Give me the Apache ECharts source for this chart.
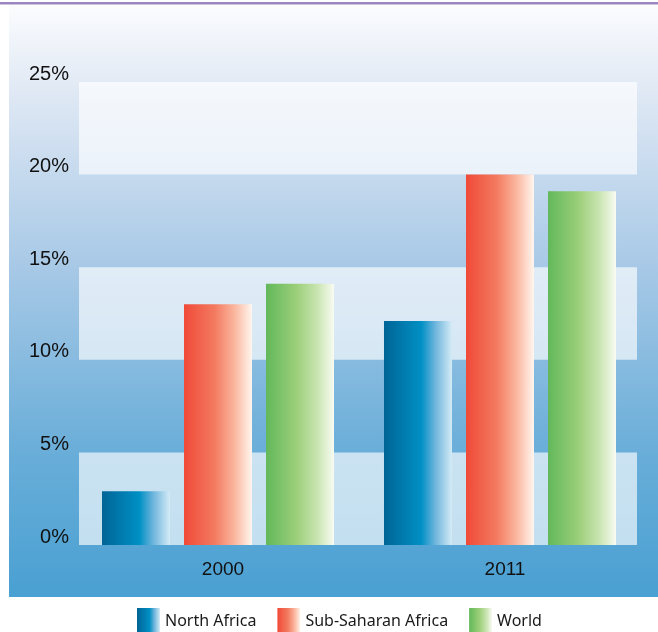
<!DOCTYPE html>
<html><head><meta charset="utf-8">
<script src="https://cdn.jsdelivr.net/npm/echarts@6/dist/echarts.min.js"></script>
<style>html,body{margin:0;padding:0;background:#fff}#c{width:658px;height:632px}</style>
</head><body><div id="c"></div>
<script>
const categories = ['2000', '2011'];
const northAfrica = [2.9, 12.1];
const subSaharan = [13.0, 20.0];
const world = [14.1, 19.1];
const seriesNames = ['North Africa', 'Sub-Saharan Africa', 'World'];
const yTicks = [0, 5, 10, 15, 20, 25];

const G = echarts.graphic.LinearGradient;
const grad = (stops) => new G(0, 0, 1, 0, stops.map(s => ({offset: s[0], color: s[1]})));
const colNA = grad([[0, '#006496'], [0.55, '#0090c4'], [0.75, '#6cb4dc'], [1, '#d4ebf6']]);
const colSS = grad([[0, '#f04a38'], [0.45, '#f37a60'], [0.75, '#fbb8a0'], [1, '#fff6ef']]);
const colW = grad([[0, '#62b85a'], [0.45, '#9ccf7a'], [0.75, '#c8e4b0'], [1, '#f8fbf2']]);

const chart = echarts.init(document.getElementById('c'));
chart.setOption({
  animation: false,
  graphic: [
    {type: 'rect', z: -10, shape: {x: 9, y: 5, width: 649, height: 592},
     style: {fill: new G(0, 0, 0, 1, [{offset: 0, color: '#fbfcfe'}, {offset: 0.15, color: '#dfe8f4'}, {offset: 0.45, color: '#a6c8e6'}, {offset: 0.75, color: '#6aaed9'}, {offset: 1, color: '#49a0d2'}])}},
    {type: 'rect', z: -9, shape: {x: 0, y: 2, width: 658, height: 2.5}, style: {fill: '#9a86c2'}}
  ],
  grid: [
    {left: 79, right: 21, top: 82, bottom: 87},
    {left: 77, right: 17, top: 82, bottom: 87}
  ],
  legend: {
    left: 132, top: 603, itemWidth: 23, itemHeight: 26, itemGap: 21,
    icon: 'rect',
    textStyle: {fontFamily: 'Noto Sans', fontSize: 16, color: '#1a1a1a'},
    data: seriesNames
  },
  xAxis: [
    {type: 'category', gridIndex: 0, data: categories, show: false},
    {type: 'category', gridIndex: 1, data: categories,
     axisLine: {show: false}, axisTick: {show: false},
     axisLabel: {fontFamily: 'Liberation Sans', fontSize: 19, color: '#111', margin: 15, padding: [0, 0, 0, 10]}}
  ],
  yAxis: [
    {type: 'value', gridIndex: 0, min: 0, max: 25, interval: 5,
     axisLine: {show: false}, axisTick: {show: false},
     splitLine: {show: false},
     splitArea: {show: true, areaStyle: {color: ['rgba(255,255,255,0.65)', 'rgba(255,255,255,0)']}},
     axisLabel: {fontFamily: 'Liberation Sans', fontSize: 20, color: '#111', margin: 10,
       verticalAlign: 'bottom', lineHeight: 16,
       formatter: v => yTicks.includes(v) ? v + '%' : ''}},
    {type: 'value', gridIndex: 1, min: 0, max: 25, interval: 5, show: false, splitLine: {show: false}}
  ],
  series: [
    {name: seriesNames[0], type: 'bar', xAxisIndex: 1, yAxisIndex: 1, data: northAfrica, barWidth: 68, barGap: '20.6%', itemStyle: {color: colNA}},
    {name: seriesNames[1], type: 'bar', xAxisIndex: 1, yAxisIndex: 1, data: subSaharan, barWidth: 68, barGap: '20.6%', itemStyle: {color: colSS}},
    {name: seriesNames[2], type: 'bar', xAxisIndex: 1, yAxisIndex: 1, data: world, barWidth: 68, barGap: '20.6%', itemStyle: {color: colW}}
  ]
});
</script></body></html>
